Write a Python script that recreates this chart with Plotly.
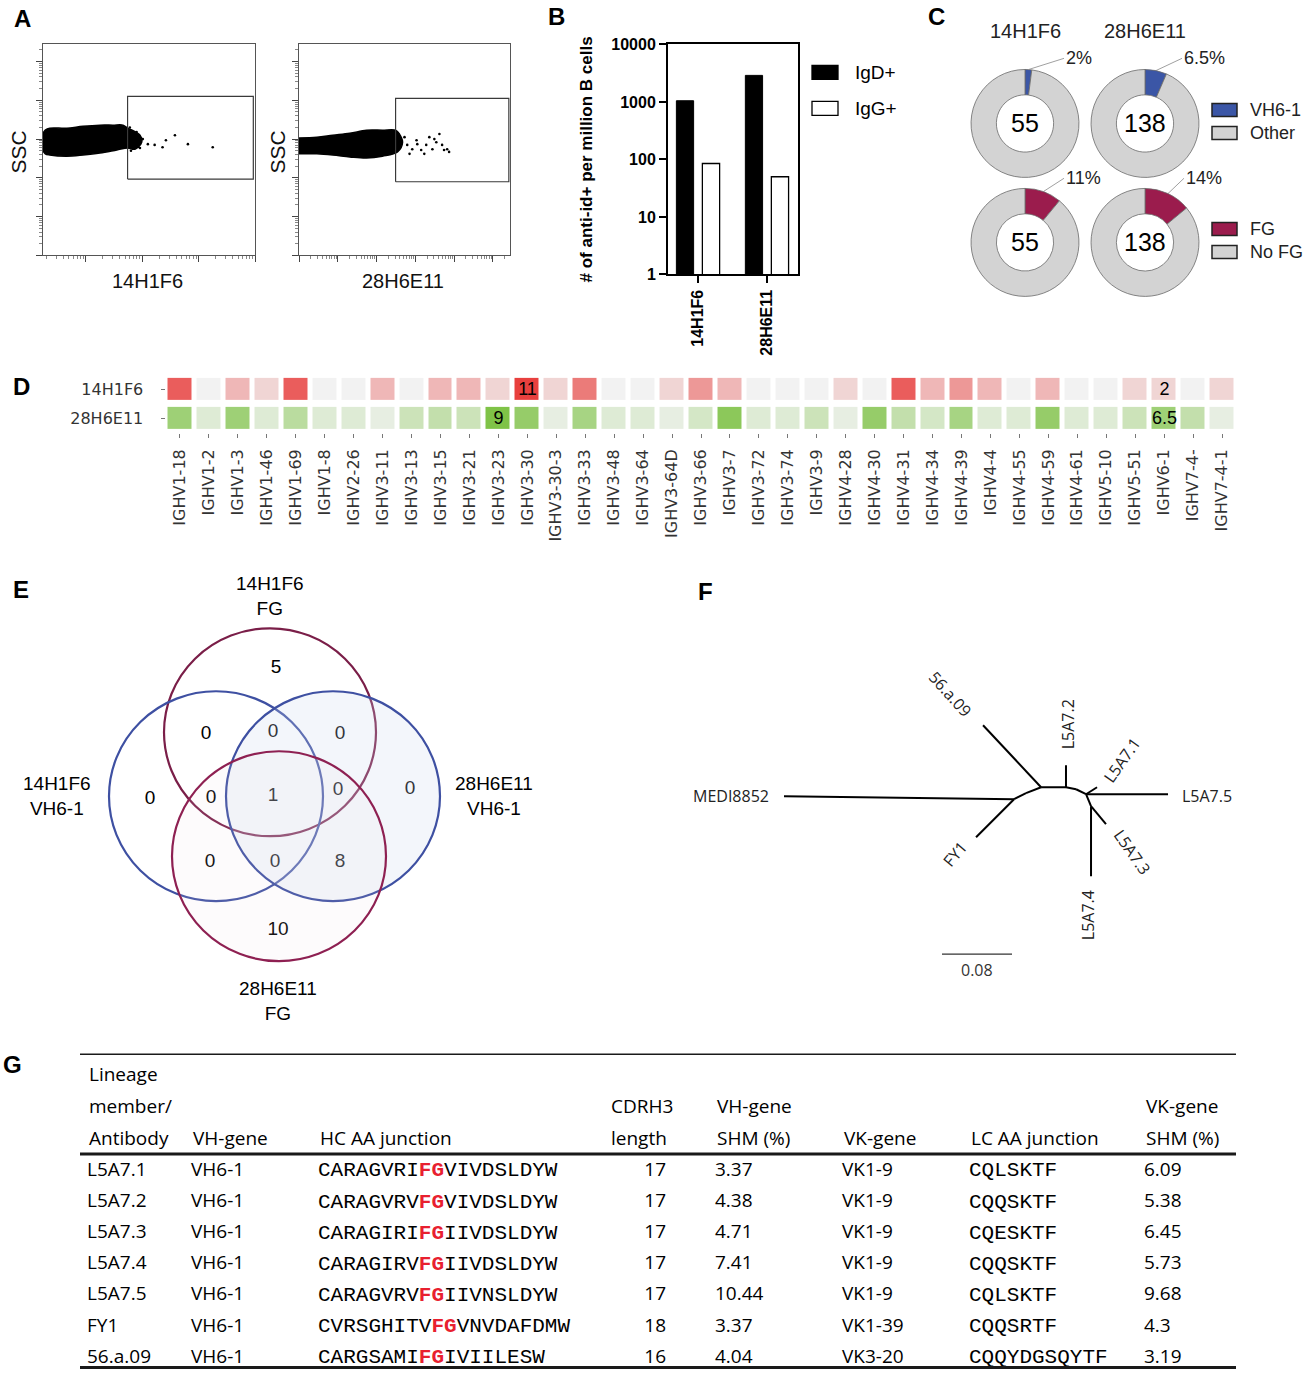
import math
import plotly.graph_objects as go

W, H = 1306, 1377
# vertical calibration of the photographed page (measured on previous renders)
Y_SCALE, Y_OFF = 0.988, 6.5


def fx(px):
    return px / W


def _py(py):
    return (py - Y_OFF) / Y_SCALE


def fy(py):
    return 1 - _py(py) / H


def dx(a, b):
    return [a / W, b / W]


def dy(top, bottom):
    lo = max(0.0, 1 - _py(bottom) / H)
    hi = min(1.0, 1 - _py(top) / H)
    return [lo, hi]


ARIAL = "Liberation Sans, Arial, sans-serif"
DEJAVU = "DejaVu Sans, sans-serif"
OPEN = "Open Sans, sans-serif"
MONO = "Liberation Mono, monospace"

# ======================= DATA =======================
# --- A: flow cytometry, values in log10 fluorescence units ---
a_left_blob_x = [1.24, 1.28, 1.36, 1.66, 1.95, 2.25, 2.48, 2.66, 2.74, 2.82, 2.96, 2.99, 2.87, 2.74, 2.55, 2.25, 1.95, 1.66, 1.36, 1.28, 1.24]
a_left_blob_y = [3.15, 3.23, 3.28, 3.28, 3.33, 3.36, 3.36, 3.36, 3.28, 3.23, 3.10, 2.92, 2.74, 2.77, 2.72, 2.64, 2.59, 2.56, 2.59, 2.62, 2.70]
a_left_events_x = [3.01, 3.10, 3.22, 3.36, 3.42, 3.58, 3.81, 4.25, 2.90, 2.96, 2.85, 2.78, 2.90, 2.93, 2.80]
a_left_events_y = [3.00, 2.87, 2.85, 2.79, 2.97, 3.10, 2.87, 2.79, 2.82, 2.77, 2.92, 3.30, 3.18, 2.80, 2.70]
a_left_gate_x = [2.74, 4.97]
a_left_gate_y = [1.97, 4.10]

a_right_blob_x = [0.0, 0.46, 0.87, 1.31, 1.74, 2.15, 2.49, 2.59, 2.67, 2.54, 2.15, 1.74, 1.31, 0.87, 0.46, 0.0]
a_right_blob_y = [3.03, 3.05, 3.10, 3.15, 3.23, 3.23, 3.23, 3.13, 2.92, 2.67, 2.56, 2.51, 2.54, 2.59, 2.62, 2.62]
a_right_events_x = [2.72, 2.79, 2.92, 3.05, 3.15, 3.28, 3.36, 3.44, 3.54, 3.62, 3.69, 3.82, 3.87, 2.85, 3.23, 3.49, 3.74, 3.03]
a_right_events_y = [3.05, 2.85, 2.74, 2.87, 2.72, 2.85, 3.05, 2.74, 2.92, 3.13, 2.85, 2.74, 2.67, 2.62, 2.62, 3.00, 2.72, 2.97]
a_right_gate_x = [2.49, 5.41]
a_right_gate_y = [1.90, 4.05]

# --- B: anti-id+ cells per million B cells ---
b_clones = ["14H1F6", "28H6E11"]
b_igd = [1050, 2900]
b_igg = [85, 50]

# --- C: donuts ---
c_clones = ["14H1F6", "28H6E11"]
c_totals = [55, 138]
c_vh61_pct = [2.0, 6.5]
c_vh61_labels = ["2%", "6.5%"]
c_fg_pct = [11.0, 14.0]
c_fg_labels = ["11%", "14%"]

# --- D: IGHV usage heatmap (%) ---
d_rows = ["14H1F6", "28H6E11"]
d_genes = ["IGHV1-18", "IGHV1-2", "IGHV1-3", "IGHV1-46", "IGHV1-69", "IGHV1-8", "IGHV2-26",
           "IGHV3-11", "IGHV3-13", "IGHV3-15", "IGHV3-21", "IGHV3-23", "IGHV3-30", "IGHV3-30-3",
           "IGHV3-33", "IGHV3-48", "IGHV3-64", "IGHV3-64D", "IGHV3-66", "IGHV3-7", "IGHV3-72",
           "IGHV3-74", "IGHV3-9", "IGHV4-28", "IGHV4-30", "IGHV4-31", "IGHV4-34", "IGHV4-39",
           "IGHV4-4", "IGHV4-55", "IGHV4-59", "IGHV4-61", "IGHV5-10", "IGHV5-51", "IGHV6-1",
           "IGHV7-4-", "IGHV7-4-1"]
d_pct_14h1f6 = [9.1, 0, 3.6, 1.8, 9.1, 0, 0, 3.6, 0, 3.6, 3.6, 1.8, 10.9, 1.8, 7.3, 0, 0, 1.8, 5.5,
                3.6, 0, 0, 0, 1.8, 0, 9.1, 3.6, 5.5, 3.6, 0, 3.6, 0, 0, 1.8, 1.8, 0, 1.8]
d_pct_28h6e11 = [6.5, 1.4, 6.5, 1.4, 4.3, 1.4, 1.4, 0.7, 2.9, 3.6, 2.9, 9.0, 7.2, 0.7, 5.8, 1.4, 1.4,
                 0.7, 2.2, 8.0, 1.4, 1.4, 2.9, 0.7, 7.2, 3.6, 2.2, 5.8, 1.4, 1.4, 7.2, 1.4, 1.4,
                 2.9, 6.5, 3.6, 0.7]
d_label_14h1f6 = {"IGHV3-30": "11", "IGHV6-1": "2"}
d_label_28h6e11 = {"IGHV3-23": "9", "IGHV6-1": "6.5"}

# --- E: Venn diagram ---
e_set_names = ["14H1F6<br>FG", "14H1F6<br>VH6-1", "28H6E11<br>VH6-1", "28H6E11<br>FG"]
e_circle_cx = [270, 216, 333, 279]
e_circle_cy = [299, 235, 235, 175]
e_circle_rx = [106, 107, 107, 107]
e_circle_ry = [104, 105, 105, 105]
e_region_counts = [5, 0, 0, 0, 0, 0, 1, 0, 0, 0, 0, 8, 10]
e_region_x = [276, 206, 273, 340, 150, 211, 273, 338, 410, 210, 275, 340, 278]
e_region_y = [363, 297, 299, 297, 232, 233, 235, 241, 242, 169, 169, 169, 101]

# --- F: phylogenetic tree (branch-length units) ---
f_node_names = ["A", "Am", "B", "C", "Cm", "D", "E", "MEDI8852", "FY1", "56.a.09",
                "L5A7.2", "L5A7.5", "L5A7.1", "L5A7.4", "L5A7.3"]
f_node_x = [0.0, 0.0137, 0.0309, 0.0594, 0.0709, 0.0823, 0.0880, -0.2629, -0.0434, -0.0354,
            0.0594, 0.1760, 0.0949, 0.0880, 0.1051]
f_node_y = [0.0, 0.0069, 0.0137, 0.0137, 0.0114, 0.0057, -0.0080, 0.0034, -0.0434, 0.0846,
            0.0389, 0.0057, 0.0137, -0.0880, -0.0286]
f_edges = [("MEDI8852", "A"), ("FY1", "A"), ("A", "Am"), ("Am", "B"), ("56.a.09", "B"),
           ("B", "C"), ("C", "L5A7.2"), ("C", "Cm"), ("Cm", "D"), ("D", "L5A7.5"),
           ("D", "L5A7.1"), ("D", "E"), ("E", "L5A7.4"), ("E", "L5A7.3")]
f_scale_length = 0.08

# --- G: table ---
g_antibody = ["L5A7.1", "L5A7.2", "L5A7.3", "L5A7.4", "L5A7.5", "FY1", "56.a.09"]
g_vh_gene = ["VH6-1", "VH6-1", "VH6-1", "VH6-1", "VH6-1", "VH6-1", "VH6-1"]
g_hc_junction = ["CARAGVRIFGVIVDSLDYW", "CARAGVRVFGVIVDSLDYW", "CARAGIRIFGIIVDSLDYW",
                 "CARAGIRVFGIIVDSLDYW", "CARAGVRVFGIIVNSLDYW", "CVRSGHITVFGVNVDAFDMW",
                 "CARGSAMIFGIVIILESW"]
g_cdrh3_length = [17, 17, 17, 17, 17, 18, 16]
g_vh_shm = ["3.37", "4.38", "4.71", "7.41", "10.44", "3.37", "4.04"]
g_vk_gene = ["VK1-9", "VK1-9", "VK1-9", "VK1-9", "VK1-9", "VK1-39", "VK3-20"]
g_lc_junction = ["CQLSKTF", "CQQSKTF", "CQESKTF", "CQQSKTF", "CQLSKTF", "CQQSRTF", "CQQYDGSQYTF"]
g_vk_shm = ["6.09", "5.38", "6.45", "5.73", "9.68", "4.3", "3.19"]

# ======================= FIGURE =======================
fig = go.Figure()


def pow10(vals):
    return [10 ** v for v in vals]


def ann(text, px_, py_, size=18, family=ARIAL, color="black", xanchor="center", yanchor="middle",
        angle=0, weight="normal"):
    fig.add_annotation(x=fx(px_), y=fy(py_), xref="paper", yref="paper", text=text, showarrow=False,
                       xanchor=xanchor, yanchor=yanchor, textangle=angle,
                       font=dict(size=size, family=family, color=color, weight=weight))


# ---------- A ----------
for (bx, by, ex, ey, gx, gy, xa, ya) in [
    (a_left_blob_x, a_left_blob_y, a_left_events_x, a_left_events_y, a_left_gate_x, a_left_gate_y, "x", "y"),
    (a_right_blob_x, a_right_blob_y, a_right_events_x, a_right_events_y, a_right_gate_x, a_right_gate_y, "x2", "y2"),
]:
    fig.add_trace(go.Scatter(x=pow10(bx), y=pow10(by), mode="lines", fill="toself", fillcolor="black",
                             line=dict(color="black", width=1.5, shape="spline"), xaxis=xa, yaxis=ya,
                             hoverinfo="skip"))
    fig.add_trace(go.Scatter(x=pow10(ex), y=pow10(ey), mode="markers",
                             marker=dict(color="black", size=2.6), xaxis=xa, yaxis=ya, hoverinfo="skip"))
    gxv = pow10(gx)
    gyv = pow10(gy)
    fig.add_trace(go.Scatter(x=[gxv[0], gxv[1], gxv[1], gxv[0], gxv[0]],
                             y=[gyv[0], gyv[0], gyv[1], gyv[1], gyv[0]], mode="lines",
                             line=dict(color="#3a3a3a", width=1.2), xaxis=xa, yaxis=ya, hoverinfo="skip"))

# ---------- B ----------
fig.add_trace(go.Bar(x=b_clones, y=b_igd, name="IgD+", marker=dict(color="black", line=dict(color="black", width=1)),
                     xaxis="x3", yaxis="y3", hoverinfo="skip"))
fig.add_trace(go.Bar(x=b_clones, y=b_igg, name="IgG+", marker=dict(color="white", line=dict(color="black", width=1.3)),
                     xaxis="x3", yaxis="y3", hoverinfo="skip"))

# ---------- C ----------
R = 54
donut_cx = [1025, 1145]
donut_cy = [122, 241]
tails = [[(1064, 57), (1182, 57)], [(1064, 177), (1184, 177)]]
c_rows = [
    (c_vh61_pct, c_vh61_labels, ["VH6-1", "Other"], ["#3b56a6", "#d3d3d3"]),
    (c_fg_pct, c_fg_labels, ["FG", "No FG"], ["#9b1c4d", "#d3d3d3"]),
]
for ri, (pcts, labs, names, cols) in enumerate(c_rows):
    cy = donut_cy[ri]
    for ci in range(len(c_clones)):
        cx = donut_cx[ci]
        fig.add_trace(go.Pie(values=[pcts[ci], 100 - pcts[ci]], labels=names,
                             marker=dict(colors=cols, line=dict(color="#6a6a6a", width=0.8)),
                             hole=0.53, sort=False, direction="clockwise", rotation=0,
                             textinfo="none", hoverinfo="skip", showlegend=False,
                             domain=dict(x=dx(cx - R, cx + R), y=dy(cy - R, cy + R))))
        ann(str(c_totals[ci]), cx, cy, size=25)
        th = math.radians(pcts[ci] / 100 * 360 / 2)
        hx = cx + R * math.sin(th)
        hy = cy - R * math.cos(th)
        tx, ty = tails[ri][ci]
        fig.add_annotation(x=fx(hx), y=fy(hy), xref="paper", yref="paper", text=labs[ci],
                           showarrow=True, arrowhead=0, arrowwidth=0.8, arrowcolor="#888",
                           ax=tx - hx, ay=_py(ty) - _py(hy), xanchor="left", yanchor="middle", standoff=0,
                           font=dict(size=18, family=ARIAL, color="#222"))
for ci, name in enumerate(c_clones):
    ann(name, donut_cx[ci], 30, size=20, color="#222")

# ---------- D ----------
d_text_14 = [d_label_14h1f6.get(g, "") for g in d_genes]
d_text_28 = [d_label_28h6e11.get(g, "") for g in d_genes]
fig.add_trace(go.Heatmap(z=[d_pct_14h1f6], x=d_genes, y=[1], zmin=0, zmax=max(d_pct_14h1f6),
                         colorscale=[[0, "#f2f2f2"], [1, "#e8403e"]], showscale=False, xgap=5, ygap=7,
                         text=[d_text_14], texttemplate="%{text}",
                         textfont=dict(size=18, color="black", family=ARIAL),
                         xaxis="x4", yaxis="y4", hoverinfo="skip"))
fig.add_trace(go.Heatmap(z=[d_pct_28h6e11], x=d_genes, y=[0], zmin=0, zmax=max(d_pct_28h6e11),
                         colorscale=[[0, "#f0f2ef"], [1, "#7fc347"]], showscale=False, xgap=5, ygap=7,
                         text=[d_text_28], texttemplate="%{text}",
                         textfont=dict(size=18, color="black", family=ARIAL),
                         xaxis="x4", yaxis="y4", hoverinfo="skip"))

# ---------- E ----------
e_line_colors = ["#7a1e48", "#3e50a2", "#3e50a2", "#8e2052"]
e_fill_colors = ["rgba(0,0,0,0)", "rgba(0,0,0,0)", "rgba(205,218,240,0.24)", "rgba(240,218,230,0.10)"]
for i in range(len(e_set_names)):
    fig.add_shape(type="circle", xref="x5", yref="y5",
                  x0=e_circle_cx[i] - e_circle_rx[i], x1=e_circle_cx[i] + e_circle_rx[i],
                  y0=e_circle_cy[i] - e_circle_ry[i], y1=e_circle_cy[i] + e_circle_ry[i],
                  line=dict(color=e_line_colors[i], width=2.2), fillcolor=e_fill_colors[i], layer="above")
fig.add_trace(go.Scatter(x=e_region_x, y=e_region_y, mode="text", text=[str(v) for v in e_region_counts],
                         textfont=dict(size=19, family=ARIAL, color="black"), xaxis="x5", yaxis="y5",
                         hoverinfo="skip", cliponaxis=False))
e_label_pos = [(270, 435), (57, 235), (494, 235), (278, 30)]
for name, (lx, ly) in zip(e_set_names, e_label_pos):
    fig.add_annotation(x=lx, y=ly, xref="x5", yref="y5", text=name, showarrow=False,
                       xanchor="center", yanchor="middle",
                       font=dict(size=19, family=ARIAL, color="black"))

# ---------- F ----------
node = {n: (x, y) for n, x, y in zip(f_node_names, f_node_x, f_node_y)}
tree_x, tree_y = [], []
for a, b in f_edges:
    tree_x += [node[a][0], node[b][0], None]
    tree_y += [node[a][1], node[b][1], None]
fig.add_trace(go.Scatter(x=tree_x, y=tree_y, mode="lines", line=dict(color="black", width=2),
                         xaxis="x6", yaxis="y6", hoverinfo="skip"))
sb_x0, sb_y = -0.0823, -0.1771
fig.add_trace(go.Scatter(x=[sb_x0, sb_x0 + f_scale_length], y=[sb_y, sb_y], mode="lines",
                         line=dict(color="#333", width=1.2), xaxis="x6", yaxis="y6", hoverinfo="skip"))
fig.add_annotation(x=sb_x0 + f_scale_length / 2, y=-0.1954, xref="x6", yref="y6", text=str(f_scale_length),
                   showarrow=False, xanchor="center", yanchor="middle",
                   font=dict(size=16, family=OPEN, color="#333"))
f_label_pos = {
    "MEDI8852": (-0.278, 0.0034, 0, "right"),
    "56.a.09": (-0.0731, 0.120, 48, "center"),
    "L5A7.2": (0.0617, 0.0857, -90, "center"),
    "L5A7.1": (0.1234, 0.0446, -55, "center"),
    "L5A7.5": (0.2206, 0.0034, 0, "center"),
    "L5A7.3": (0.1349, -0.0606, 55, "center"),
    "L5A7.4": (0.0846, -0.1326, -90, "center"),
    "FY1": (-0.0674, -0.0629, -50, "center"),
}
for name, (lx, ly, ang, xa) in f_label_pos.items():
    fig.add_annotation(x=lx, y=ly, xref="x6", yref="y6", text=name, showarrow=False, textangle=ang,
                       xanchor=xa, yanchor="middle", font=dict(size=16, family=OPEN, color="#222"))

# ---------- G ----------
red_fg = "<span style='color:#e8202f'><b>FG</b></span>"
g_hc_rich = [s.replace("FG", red_fg, 1) for s in g_hc_junction]
rows_idx = list(range(len(g_antibody)))
g_columns = [
    (g_antibody, 87, "middle right", OPEN, 19),
    (g_vh_gene, 191, "middle right", OPEN, 19),
    (g_hc_rich, 318, "middle right", MONO, 21),
    ([str(v) for v in g_cdrh3_length], 666, "middle left", OPEN, 19),
    (g_vh_shm, 715, "middle right", OPEN, 19),
    (g_vk_gene, 842, "middle right", OPEN, 19),
    (g_lc_junction, 969, "middle right", MONO, 21),
    (g_vk_shm, 1144, "middle right", OPEN, 19),
]
for vals, cx, pos, fam, size in g_columns:
    fig.add_trace(go.Scatter(x=[cx] * len(vals), y=rows_idx, mode="text", text=vals, textposition=pos,
                             textfont=dict(size=size, family=fam, color="black"), cliponaxis=False,
                             xaxis="x7", yaxis="y7", hoverinfo="skip"))
g_header = [
    ("Lineage", 87, 1073), ("member/", 87, 1105), ("Antibody", 87, 1137),
    ("VH-gene", 191, 1137), ("HC AA junction", 318, 1137),
    ("CDRH3", 609, 1105), ("length", 609, 1137),
    ("VH-gene", 715, 1105), ("SHM (%)", 715, 1137),
    ("VK-gene", 842, 1137), ("LC AA junction", 969, 1137),
    ("VK-gene", 1144, 1105), ("SHM (%)", 1144, 1137),
]
for txt, hx_, hy_ in g_header:
    ann(txt, hx_, hy_, size=19, family=OPEN, xanchor="left")
for yline, wline in [(1053, 1.5), (1153, 3), (1366.5, 3)]:
    fig.add_shape(type="line", xref="paper", yref="paper", x0=fx(80), x1=fx(1236), y0=fy(yline), y1=fy(yline),
                  line=dict(color="#1a1a1a", width=wline))

# ---------- axis titles, legends, panel letters ----------
ann("SSC", 18, 151, size=21, color="#111", angle=-90)
ann("SSC", 277, 151, size=21, color="#111", angle=-90)
ann("14H1F6", 147, 280, size=20, color="#111")
ann("28H6E11", 403, 280, size=20, color="#111")
ann("# of anti-id+ per million B cells", 586, 158, size=17, angle=-90, weight="bold")

# legend B
for (y0, y1, fill, txt) in [(64, 78, "black", "IgD+"), (100, 114, "white", "IgG+")]:
    fig.add_shape(type="rect", xref="paper", yref="paper", x0=fx(812), x1=fx(838), y0=fy(y1), y1=fy(y0),
                  fillcolor=fill, line=dict(color="black", width=1.3))
    ann(txt, 853, (y0 + y1) / 2, size=19, xanchor="left")
# legend C
for (y0, y1, fill, txt) in [(102, 115, "#3b56a6", "VH6-1"), (125, 138, "#d3d3d3", "Other"),
                            (221, 234, "#9b1c4d", "FG"), (244, 257, "#d3d3d3", "No FG")]:
    fig.add_shape(type="rect", xref="paper", yref="paper", x0=fx(1212), x1=fx(1237), y0=fy(y1), y1=fy(y0),
                  fillcolor=fill, line=dict(color="#222", width=1.5))
    ann(txt, 1248, (y0 + y1) / 2, size=18, color="#222", xanchor="left")

for letter, px_, py_ in [("A", 22, 17), ("B", 556, 15), ("C", 936, 15), ("D", 21, 385),
                         ("E", 21, 588), ("F", 705, 590), ("G", 12, 1063)]:
    ann(letter, px_, py_, size=24, weight="bold")

# ======================= LAYOUT =======================
flow_common = dict(type="log", showline=True, mirror=True, linecolor="#555", linewidth=1, ticks="outside",
                   ticklen=6, tickwidth=1, tickcolor="#444", dtick=1, showticklabels=False, showgrid=False,
                   zeroline=False,
                   minor=dict(ticks="outside", ticklen=3, tickcolor="#888", tickwidth=1, dtick="D1", showgrid=False))
hidden = dict(visible=False, showgrid=False, zeroline=False)

fig.update_layout(
    width=W, height=H, margin=dict(l=0, r=0, t=0, b=0),
    paper_bgcolor="white", plot_bgcolor="rgba(0,0,0,0)", showlegend=False,
    font=dict(family=ARIAL, color="black"),
    barmode="group", bargap=0.246, bargroupgap=0.337,
    xaxis=dict(flow_common, range=[1.24, 5.0], domain=dx(43, 255), anchor="y"),
    yaxis=dict(flow_common, range=[0, 5.44], domain=dy(43, 254), anchor="x"),
    xaxis2=dict(flow_common, range=[0, 5.44], domain=dx(299, 510), anchor="y2"),
    yaxis2=dict(flow_common, range=[0, 5.44], domain=dy(43, 254), anchor="x2"),
    xaxis3=dict(domain=dx(668, 798), anchor="y3", type="category", range=[-0.435, 1.45],
                showline=True, mirror=True, linewidth=2, linecolor="black", ticks="outside", ticklen=7,
                tickwidth=2, tickcolor="black", tickangle=-90, showgrid=False, zeroline=False,
                tickfont=dict(family=ARIAL, size=16, color="black", weight="bold")),
    yaxis3=dict(domain=dy(43, 273), anchor="x3", type="log", range=[0, 4],
                tickvals=[1, 10, 100, 1000, 10000], ticktext=["1", "10", "100", "1000", "10000"],
                showline=True, mirror=True, linewidth=2, linecolor="black", ticks="outside", ticklen=7,
                tickwidth=2, tickcolor="black", showgrid=False, zeroline=False,
                tickfont=dict(family=ARIAL, size=16, color="black", weight="bold")),
    xaxis4=dict(domain=dx(165.5, 1236.5), anchor="y4", type="category", tickangle=-90, ticks="outside",
                ticklen=4, tickcolor="#777", showgrid=False, zeroline=False, showline=False,
                ticklabelstandoff=5, tickfont=dict(family=DEJAVU, size=16, color="#333")),
    yaxis4=dict(domain=dy(373.5, 431.5), anchor="x4", range=[-0.5, 1.5], tickvals=[1, 0],
                ticktext=d_rows, ticks="outside", ticklen=4, tickcolor="#777",
                showgrid=False, zeroline=False, showline=False, ticklabelstandoff=14,
                tickfont=dict(family=DEJAVU, size=16, color="#333")),
    xaxis5=dict(hidden, domain=dx(0, 560), anchor="y5", range=[0, 560]),
    yaxis5=dict(hidden, domain=dy(560, 1030), anchor="x5", range=[0, 470]),
    xaxis6=dict(hidden, domain=dx(660, 1306), anchor="y6", range=[-0.4046, 0.3337]),
    yaxis6=dict(hidden, domain=dy(600, 1000), anchor="x6", range=[-0.2309, 0.2263]),
    xaxis7=dict(hidden, domain=[0, 1], anchor="y7", range=[0, W]),
    yaxis7=dict(hidden, domain=dy(1154.5, 1357.0), anchor="x7", range=[6.0, -0.5]),
)

page_fix = ("document.documentElement.style.margin='0';document.documentElement.style.overflow='hidden';"
            "document.body.style.margin='0';document.body.style.overflow='hidden';"
            "document.body.style.height='1377px';"
            "var g=document.getElementById('{plot_id}');g.style.position='fixed';"
            "g.style.top='0px';g.style.left='0px';")
fig.write_html("out.html", config={"displayModeBar": False}, post_script=page_fix)
